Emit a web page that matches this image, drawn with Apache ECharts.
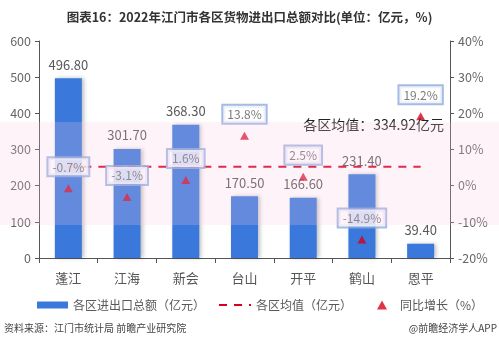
<!DOCTYPE html>
<html><head><meta charset="utf-8">
<script src="https://cdn.jsdelivr.net/npm/echarts@6/dist/echarts.min.js"></script>
<style>html,body{margin:0;padding:0;background:#fff}#c{width:499px;height:346px}</style>
</head><body><div id="c"></div>
<script>
const districts = ['蓬江','江海','新会','台山','开平','鹤山','恩平'];
const tradeValues = [496.80, 301.70, 368.30, 170.50, 166.60, 231.40, 39.40];
const growthRates = [-0.7, -3.1, 1.6, 13.8, 2.5, -14.9, 19.2];
const averageLine = [252, 252, 252, 252, 252, 252, 252];
const leftTicks = [0, 100, 200, 300, 400, 500, 600];
const rightTicks = [-20, -10, 0, 10, 20, 30, 40];
const titleText = '图表16：2022年江门市各区货物进出口总额对比(单位：亿元，%)';
const avgLabelText = '各区均值：334.92亿元';
const sourceText = '资料来源：江门市统计局 前瞻产业研究院';
const appText = '@前瞻经济学人APP';
const seriesNames = ['各区进出口总额（亿元）', '各区均值（亿元）', '同比增长（%）'];

const FONT = '"Noto Sans CJK SC","Noto Sans",sans-serif';
const legendText = {fontSize: 12, color: '#595959', fontFamily: FONT};
const chart = echarts.init(document.getElementById('c'), null, {renderer: 'canvas'});
chart.setOption({
  animation: false,
  textStyle: {fontFamily: FONT},
  title: {
    text: titleText, left: 'center', top: 6,
    textStyle: {fontSize: 12.5, fontWeight: 'bold', color: '#333', fontFamily: FONT}
  },
  grid: {left: 39, right: 49, top: 41, bottom: 88},
  legend: [
    {left: 32, top: 294, itemWidth: 31, itemHeight: 7, textStyle: legendText,
      data: [{name: seriesNames[0], icon: 'rect'}]},
    {left: 213, top: 294, itemWidth: 32, itemHeight: 7, textStyle: legendText,
      data: [{name: seriesNames[1], itemStyle: {color: 'transparent', borderWidth: 0}}]},
    {left: 372, top: 294, itemWidth: 10, itemHeight: 9,
      textStyle: Object.assign({padding: [0, 0, 0, 8]}, legendText),
      data: [{name: seriesNames[2], icon: 'triangle'}]}
  ],
  xAxis: {
    type: 'category', data: districts,
    axisLine: {lineStyle: {color: '#555', width: 1}},
    axisTick: {show: true, length: 5, lineStyle: {color: '#555'}},
    axisLabel: {fontSize: 13, color: '#555', margin: 14, fontFamily: FONT}
  },
  yAxis: [
    {
      type: 'value', min: leftTicks[0], max: leftTicks[leftTicks.length - 1], interval: 100,
      splitLine: {show: false},
      axisLine: {show: true, lineStyle: {color: '#555'}},
      axisTick: {show: true, length: 4, lineStyle: {color: '#555'}},
      axisLabel: {fontSize: 12.5, color: '#666', margin: 8, fontFamily: FONT}
    },
    {
      type: 'value', min: rightTicks[0], max: rightTicks[rightTicks.length - 1], interval: 10,
      splitLine: {show: false},
      axisLine: {show: true, lineStyle: {color: '#555'}},
      axisTick: {show: true, length: 4, lineStyle: {color: '#555'}},
      axisLabel: {fontSize: 12.5, color: '#666', margin: 8, formatter: '{value}%', fontFamily: FONT}
    }
  ],
  series: [
    {
      name: seriesNames[0], type: 'bar', data: tradeValues, barWidth: 27,
      itemStyle: {color: '#3a79db', shadowColor: 'rgba(0,0,0,0.25)', shadowBlur: 4, shadowOffsetX: 2},
      label: {show: true, position: 'top', distance: 7, fontSize: 13, color: '#595959',
        formatter: p => p.value.toFixed(2), fontFamily: FONT},
      z: 2
    },
    {
      name: seriesNames[1], type: 'line', data: averageLine, symbol: 'none',
      lineStyle: {color: '#d7001d', width: 2, type: [8, 7]},
      itemStyle: {color: '#d7001d'},
      z: 3
    },
    {
      name: seriesNames[2], type: 'scatter', yAxisIndex: 1, data: growthRates,
      symbol: 'triangle', symbolSize: [9, 8],
      itemStyle: {color: '#d7001d'},
      label: {
        show: true, position: 'top', distance: 9,
        formatter: p => p.value.toFixed(1) + '%',
        fontSize: 12, color: '#595959', fontFamily: FONT,
        backgroundColor: '#fff',
        borderColor: '#8eaadc', borderWidth: 2, padding: [3, 4, 2, 4]
      },
      z: 4
    }
  ],
  graphic: [
    {type: 'text', right: 55, top: 118, z: 10,
      style: {text: avgLabelText, fill: '#222', font: '14px ' + FONT}},
    {type: 'rect', left: 0, top: 122, z: 100, silent: true,
      shape: {width: 499, height: 103}, style: {fill: 'rgba(246,200,226,0.22)'}},
    {type: 'text', left: 4, top: 323, z: 10,
      style: {text: sourceText, fill: '#444', font: '10px ' + FONT}},
    {type: 'text', right: 2, top: 323, z: 10,
      style: {text: appText, fill: '#444', font: '10px ' + FONT}}
  ]
});
</script></body></html>
